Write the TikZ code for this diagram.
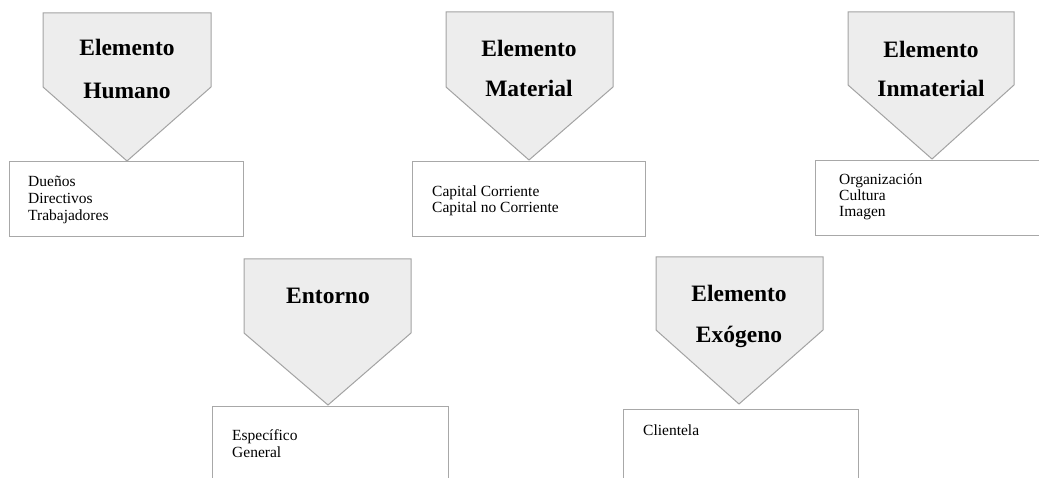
\documentclass[tikz,border=0pt]{standalone}
\usepackage{fontspec}
\setmainfont{Liberation Serif}
\definecolor{chevfill}{HTML}{EDEDED}
\definecolor{edgegray}{HTML}{A3A3A3}
\definecolor{boxgray}{HTML}{A8A8A8}
\begin{document}
\begin{tikzpicture}[x=1pt,y=-1pt,
  chevron/.style={draw=edgegray, fill=chevfill, line width=1pt, line join=miter},
  listbox/.style={draw=boxgray, fill=white, line width=1.3pt, rectangle,
                  inner sep=0pt, anchor=north west},
  heading/.style={font=\fontsize{23.5}{28}\selectfont\bfseries, anchor=base, inner sep=0pt},
  item/.style={font=\fontsize{15.5}{16.5}\selectfont, anchor=base west, inner sep=0pt},
]
\useasboundingbox (0,0) rectangle (1039,478);
\clip (0,0) rectangle (1039,478);

% ---- list boxes ----
\node[listbox, minimum width=234pt, minimum height=75pt] (boxH) at (9,161) {};
\node[listbox, minimum width=233pt, minimum height=75pt] (boxM) at (412,161) {};
\node[listbox, minimum width=235pt, minimum height=75pt] (boxI) at (815,160) {};
\node[listbox, minimum width=236pt, minimum height=90pt] (boxE) at (212,406) {};
\node[listbox, minimum width=235pt, minimum height=90pt] (boxX) at (623,409) {};

% ---- downward chevrons ----
\draw[chevron] (43,13) -- (211,13) -- (211,87) -- (127,161) -- (43,87) -- cycle;
\draw[chevron] (446,12) -- (613,12) -- (613,87) -- (529,160) -- (446,87) -- cycle;
\draw[chevron] (848,12) -- (1014,12) -- (1014,85) -- (932,159) -- (848,85) -- cycle;
\draw[chevron] (244,259) -- (411,259) -- (411,333) -- (328,405) -- (244,333) -- cycle;
\draw[chevron] (656,257) -- (823,257) -- (823,330) -- (739,404) -- (656,330) -- cycle;

% ---- headings ----
\node[heading] (hH1) at (127,56) {Elemento};
\node[heading] (hH2) at (127,99) {Humano};
\node[heading] (hM1) at (529,57) {Elemento};
\node[heading] (hM2) at (529,97) {Material};
\node[heading] (hI1) at (931,58) {Elemento};
\node[heading] (hI2) at (931,97) {Inmaterial};
\node[heading] (hE1) at (328,304) {Entorno};
\node[heading] (hX1) at (739,302) {Elemento};
\node[heading] (hX2) at (739,342) {Exógeno};

% ---- list items ----
\node[item] (iH1) at (28,187) {Dueños};
\node[item] (iH2) at (28,204) {Directivos};
\node[item] (iH3) at (28,221) {Trabajadores};
\node[item] (iM1) at (432,197) {Capital Corriente};
\node[item] (iM2) at (432,213) {Capital no Corriente};
\node[item] (iI1) at (839,185) {Organización};
\node[item] (iI2) at (839,201) {Cultura};
\node[item] (iI3) at (839,217) {Imagen};
\node[item] (iE1) at (232,440) {Específico};
\node[item] (iE2) at (232,457) {General};
\node[item] (iX1) at (643,435) {Clientela};
\end{tikzpicture}
\end{document}
